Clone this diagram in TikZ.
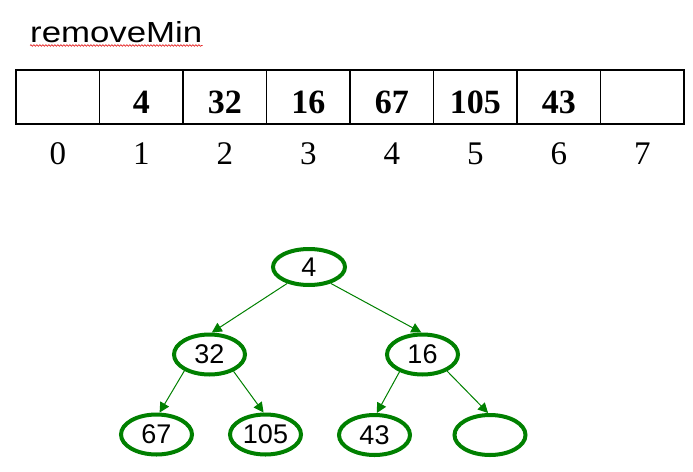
\documentclass[tikz,border=0pt]{standalone}
\usepackage{fontspec}
\setmainfont{Liberation Serif}
\newfontfamily\arialfont{Liberation Sans}
\usetikzlibrary{shapes.geometric,arrows.meta,decorations.pathmorphing}
\definecolor{treegreen}{RGB}{0,128,0}
\definecolor{spellred}{RGB}{230,40,40}
\begin{document}
\begin{tikzpicture}[x=1pt,y=-1pt,
  cell/.style={draw=black,line width=1.3pt,minimum width=83.5pt,minimum height=54pt,inner sep=0pt,outer sep=0pt,
    font=\fontsize{34}{34}\selectfont\bfseries,text height=33pt,text depth=0pt},
  idx/.style={inner sep=0pt,font=\fontsize{33}{33}\selectfont},
  hnode/.style={ellipse,draw=treegreen,line width=4pt,minimum width=71pt,minimum height=40pt,inner sep=0pt,
    font=\arialfont\fontsize{27}{27}\selectfont},
  tedge/.style={draw=treegreen,line width=1pt,-{Triangle[length=10pt,width=10pt]}}]
\useasboundingbox (0,0) rectangle (693,471);
% title
\node[anchor=base west,inner sep=0pt,font=\arialfont\fontsize{29}{29}\selectfont] (title) at (30,42) {\scalebox{1.2}[1]{removeMin}};
\draw[spellred,line width=0.7pt,decorate,decoration={snake,amplitude=0.8pt,segment length=3pt}]
  ([yshift=-3pt]title.south west) -- ([yshift=-3pt]title.south east);
% array
\node[cell] (c0) at (57.75,97) {};
\node[cell] (c1) at (141.25,97) {4};
\node[cell] (c2) at (224.75,97) {32};
\node[cell] (c3) at (308.25,97) {16};
\node[cell] (c4) at (391.75,97) {67};
\node[cell] (c5) at (475.25,97) {105};
\node[cell] (c6) at (558.75,97) {43};
\node[cell] (c7) at (642.25,97) {};
\foreach \i/\x in {0/57.75,1/141.25,2/224.75,3/308.25,4/391.75,5/475.25,6/558.75,7/642.25}
  \node[idx] (i\i) at (\x,153.5) {\i};
% tree
\node[hnode,minimum height=36pt,minimum width=72pt] (root) at (309,267) {4};
\node[hnode] (n32) at (209.5,354.5) {32};
\node[hnode] (n16) at (422.5,354.5) {16};
\node[hnode] (n67) at (156.5,434.5) {67};
\node[hnode] (n105) at (265.5,434.5) {105};
\node[hnode] (n43) at (374.5,435) {43};
\node[hnode] (nemp) at (490,435) {};
\draw[tedge] (root.217) -- (n32.84);
\draw[tedge] (root.323) -- (n16.93);
\draw[tedge] (n32.213) -- (n67.82);
\draw[tedge] (n32.325) -- (n105.95);
\draw[tedge] (n16.217) -- (n43.84);
\draw[tedge] (n16.326) -- (nemp.95);
\end{tikzpicture}
\end{document}
